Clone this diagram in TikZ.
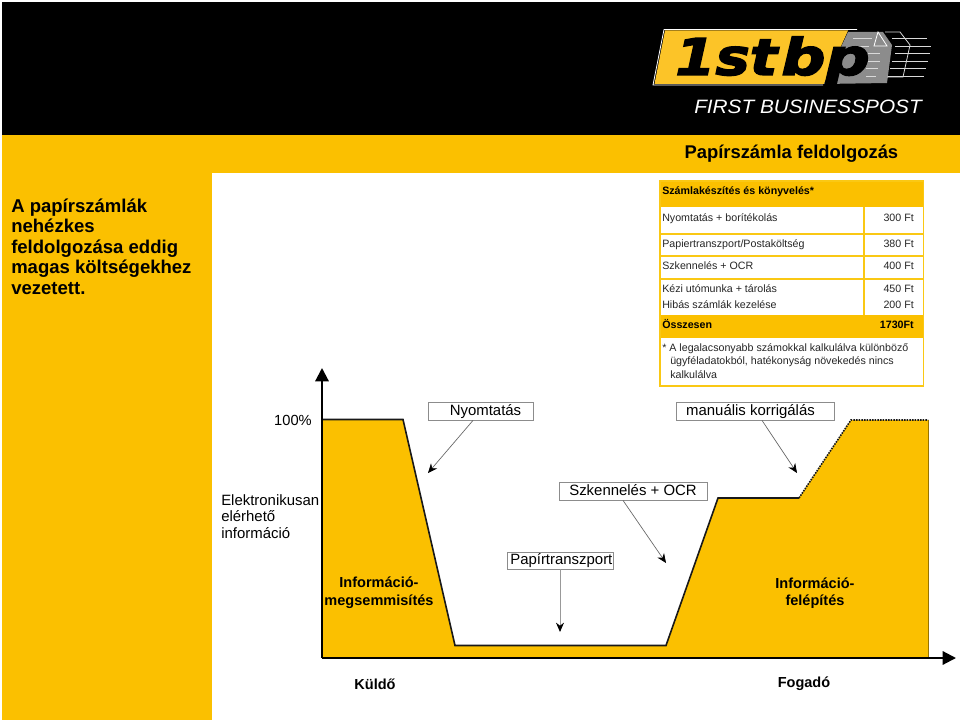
\documentclass[tikz,border=0pt]{standalone}
\usepackage{fontspec}
\setmainfont{Liberation Sans}
\newfontfamily\logofont[BoldItalicFeatures={FakeBold=2.5}]{DejaVu Sans}
\usepackage{tikz}
\usetikzlibrary{arrows.meta, positioning}
\definecolor{bpyellow}{RGB}{251,192,0}
\definecolor{tblline}{RGB}{250,200,20}
\definecolor{logoyellow}{RGB}{252,196,40}
\begin{document}
\begin{tikzpicture}[x=0.75pt, y=-0.75pt, >={Stealth[length=7pt, width=6pt, black]},
    labelbox/.style={draw=black!45, line width=0.6pt, fill=white, inner sep=0pt, minimum height=13.5pt, text height=9pt, text depth=2.5pt, font=\fontsize{11.2}{13}\selectfont},
    axislabel/.style={align=left, anchor=north west, inner sep=0pt, font=\fontsize{11.2}{12.4}\selectfont},
    boldlabel/.style={align=center, inner sep=0pt, font=\bfseries\fontsize{10.9}{13.2}\selectfont},
    tbltext/.style={anchor=base west, inner sep=0pt, font=\fontsize{8}{9.5}\selectfont, text=black!85},
    tblnum/.style={anchor=base east, inner sep=0pt, font=\fontsize{8}{9.5}\selectfont, text=black!85},
    tblbold/.style={anchor=base west, inner sep=0pt, font=\bfseries\fontsize{8}{9.5}\selectfont},
    tblrule/.style={tblline, line width=1.3pt},
    logoline/.style={white!85!black, line width=0.6pt},
    callout/.style={->, black!60, line width=0.5pt}]
  \useasboundingbox (0,0) rectangle (960,720);
  % background
  \fill[white] (0,0) rectangle (960,720);
  \fill[black] (2,2) rectangle (960,135);
  \fill[bpyellow] (2,135) rectangle (960,173);
  \fill[bpyellow] (2,173) rectangle (212,720);
  \node[anchor=east, inner sep=0pt, font=\bfseries\fontsize{13.8}{16}\selectfont] (title) at (898.5,154) {Papírszámla feldolgozás};
  \node[anchor=north west, align=left, inner sep=0pt, font=\bfseries\fontsize{13.9}{15.4}\selectfont] (intro) at (11,198.5) {A papírszámlák\\nehézkes\\feldolgozása eddig\\magas költségekhez\\vezetett.};
  % logo
  \draw[white, line width=0.6pt] (823,85) -- (653,85) -- (664,29.5) -- (857,29.5);
  \fill[logoyellow] (654.5,84) -- (665,30.5) -- (848,30.5) -- (824,84) -- cycle;
  \fill[black!45] (848,32) -- (883,32) -- (892,45) -- (887,83) -- (824,84) -- cycle;
  \draw[white, line width=0.6pt] (878,32) -- (874,46) -- (887,46) -- cycle;
  \draw[logoline] (885,32) -- (900,32) -- (910,45) -- (903,77) -- (887,77);
  \foreach \yy/\xa/\xb in {38/892/927, 46/895/931, 53/895/930, 61/892/928, 68/890/926, 76/888/924}
    \draw[logoline] (\xa,\yy) -- (\xb,\yy);
  \foreach \yy/\xa/\xb in {38/853/872, 46/852/869, 53/868/880, 61/868/880, 68/866/878, 76/866/876}
    \draw[logoline] (\xa,\yy) -- (\xb,\yy);
  \node[anchor=base west, inner sep=0pt, font=\logofont\bfseries\itshape\fontsize{38}{38}\selectfont] (logoa) at (675,75) {\scalebox{1.14}[1]{1st}};
  \node[anchor=base west, inner sep=0pt, font=\logofont\bfseries\itshape\fontsize{38}{38}\selectfont] (logob) at (781,75) {\scalebox{1.22}[1]{bp}};
  \node[inner sep=0pt, font=\itshape\fontsize{14.5}{14.5}\selectfont, text=white] (logosub) at (808,107) {\scalebox{1.075}[1]{FIRST BUSINESSPOST}};
  % table
  \fill[bpyellow] (659,181) rectangle (924,207);
  \fill[bpyellow] (659,315) rectangle (924,338);
  \draw[tblrule] (660,181) rectangle (923.5,385.7);
  \draw[tblrule] (660,234) -- (923.5,234);
  \draw[tblrule] (660,256) -- (923.5,256);
  \draw[tblrule] (660,279) -- (923.5,279);
  \draw[tblrule] (864,207) -- (864,315);
  \node[tblbold] (thead) at (662,195) {Számlakészítés és könyvelés*};
  \node[tbltext] (t1) at (662,221.5) {Nyomtatás + borítékolás};
  \node[tbltext] (t2) at (662,247.5) {Papiertranszport/Postaköltség};
  \node[tbltext] (t3) at (662,270) {Szkennelés + OCR};
  \node[tbltext] (t4) at (662,292.5) {Kézi utómunka + tárolás};
  \node[tbltext] (t5) at (662,308) {Hibás számlák kezelése};
  \node[tblbold] (tsum) at (662,329) {Összesen};
  \node[tblnum] (n1) at (914,221.5) {300 Ft};
  \node[tblnum] (n2) at (914,247.5) {380 Ft};
  \node[tblnum] (n3) at (914,270) {400 Ft};
  \node[tblnum] (n4) at (914,292.5) {450 Ft};
  \node[tblnum] (n5) at (914,308) {200 Ft};
  \node[tblnum, font=\bfseries\fontsize{8}{9.5}\selectfont, text=black] (nsum) at (914,329) {1730Ft};
  \node[anchor=north west, align=left, inner sep=0pt, font=\fontsize{8}{9.9}\selectfont, text=black!85] (tnote) at (662,343.5) {* A legalacsonyabb számokkal kalkulálva különböző\\\hspace*{6pt}ügyféladatokból, hatékonyság növekedés nincs\\\hspace*{6pt}kalkulálva};
  % area
  \fill[bpyellow] (322,419.5) -- (403,419.5) -- (455,645.5) -- (666,645.5) -- (718,498) -- (799,498) -- (851,420) -- (928,420) -- (928,658) -- (322,658) -- cycle;
  \draw[line width=1.2pt, black!90] (322,419.5) -- (403,419.5) -- (455,645.5) -- (666,645.5) -- (718,498) -- (799,498);
  \draw[line width=1.2pt, black!90, dash pattern=on 1.2pt off 0.8pt] (799,498) -- (851,420) -- (928,420);
  \draw[line width=0.6pt, black!40!bpyellow] (928,420) -- (928,658);
  % axes
  \coordinate (origin) at (322,658);
  \coordinate (yend) at (322,368);
  \coordinate (xend) at (956,658);
  \draw[line width=1.6pt, -{Stealth[length=10pt, width=10pt, inset=0pt]}] (origin) -- (yend);
  \draw[line width=1.6pt, -{Stealth[length=10pt, width=10pt, inset=0pt]}] (origin) -- (xend);
  % labels
  \node[inner sep=0pt, font=\fontsize{11}{13}\selectfont] (full) at (293,420) {100\%};
  \node[axislabel] (elect) at (221,494) {Elektronikusan\\elérhető\\információ};
  \node[boldlabel] (destroy) at (379,593) {Információ-\\megsemmisítés};
  \node[boldlabel] (build) at (815,593) {Információ-\\felépítés};
  \node[boldlabel] (sender) at (375,684) {Küldő};
  \node[boldlabel] (receiver) at (804,684) {Fogadó};
  % callouts
  \node[labelbox, minimum width=78.75pt] (print) at (480.5,411) {\hspace*{7.5pt}Nyomtatás};
  \node[labelbox, minimum width=118.5pt] (manual) at (755,411) {manuális korrigálás\hspace*{6.75pt}};
  \node[labelbox, minimum width=111pt] (scan) at (633,491) {Szkennelés + OCR};
  \node[labelbox, minimum width=79.5pt, minimum height=12.75pt] (paper) at (560,560.5) {\hspace*{2pt}Papírtranszport};
  \coordinate (printend) at (428,473);
  \coordinate (manualend) at (797,473);
  \coordinate (scanend) at (666,563);
  \coordinate (paperend) at (560,632);
  \draw[callout] (print.south -| 473,0) -- (printend);
  \draw[callout] (manual.south -| 762,0) -- (manualend);
  \draw[callout] (scan.south -| 623,0) -- (scanend);
  \draw[callout, black!40, line width=0.7pt] (paper.south) -- (paperend);
\end{tikzpicture}
\end{document}
